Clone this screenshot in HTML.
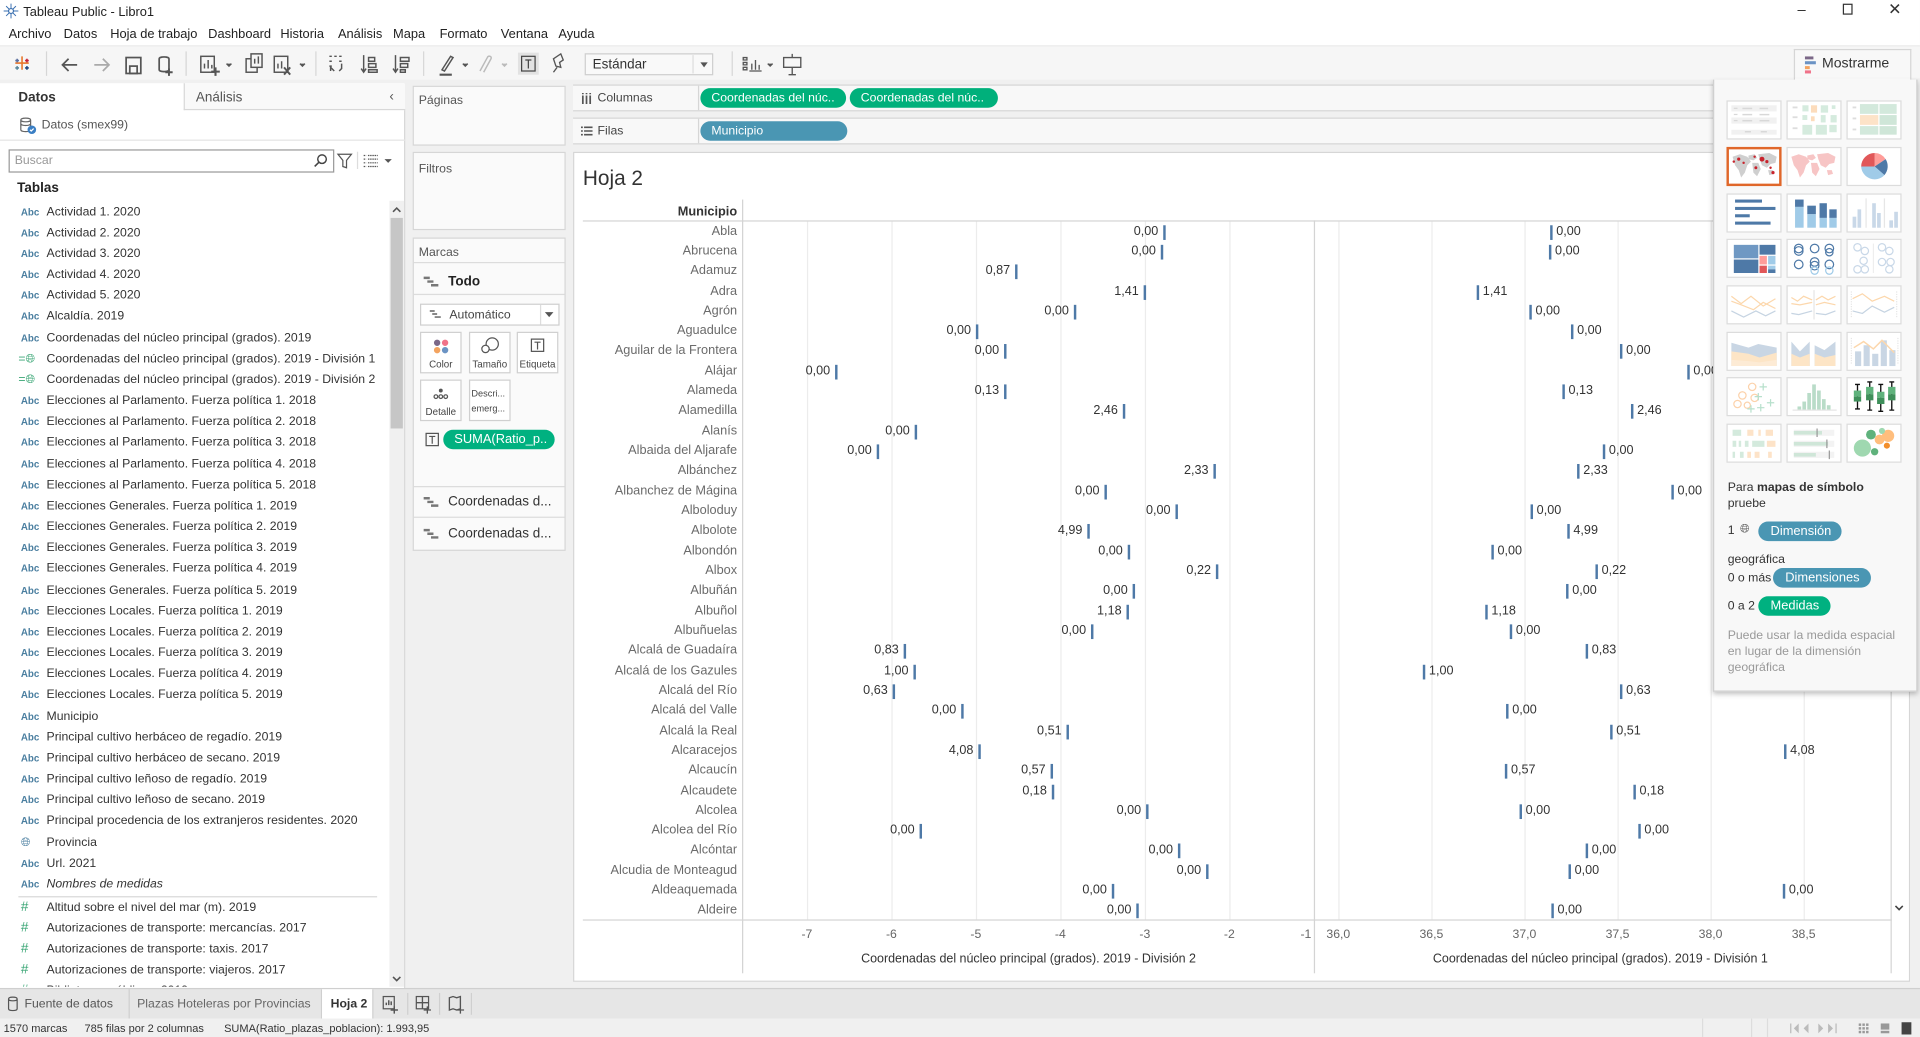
<!DOCTYPE html>
<html><head><meta charset="utf-8">
<style>
html,body{margin:0;padding:0;width:1920px;height:1037px;overflow:hidden;background:#fff}
#app{position:absolute;left:0;top:0;width:1568px;height:847px;transform:scale(1.22445,1.22425);transform-origin:0 0;font-family:"Liberation Sans",Arial,sans-serif;color:#333;background:#f0f0f0;overflow:hidden}
.a{position:absolute;box-sizing:border-box;white-space:nowrap}
.menu{top:21px;font-size:10.5px;color:#222;line-height:14px}
.li{left:0;width:310px;height:17px;line-height:17px;font-size:10px;color:#333}
.li .ic{position:absolute;left:17px;top:0;font-size:8px;color:#4b7fa0;font-weight:bold}
.li .tx{position:absolute;left:38px;top:0}
.hash{color:#3aa675 !important;font-size:11px !important;font-weight:normal !important}
.row{position:absolute;left:0;width:1568px;height:16px}
.rl{position:absolute;left:440px;width:162px;text-align:right;top:0;line-height:16px;font-size:10.4px;color:#6b6b6b;white-space:nowrap}
.mk{position:absolute;top:2px;width:2px;height:12px;background:#4e79a7}
.lv{position:absolute;top:0;width:22px;text-align:right;line-height:16px;font-size:10.3px;color:#333}
.rv{position:absolute;top:0;line-height:16px;font-size:10.3px;color:#333}
.gl{position:absolute;top:181px;width:1px;height:570px;background:#ececec}
.tk{position:absolute;top:757px;width:40px;text-align:center;font-size:10px;color:#666;line-height:14px}
.th{position:absolute;width:45px;height:32px;border:1px solid #dcdcdc;background:#fff;box-sizing:border-box}
.th svg{position:absolute;left:0;top:0}
.card{position:absolute;left:337px;width:125px;background:#fafafa;border:1px solid #d6d6d6;box-sizing:border-box}
.mb{position:absolute;width:34px;height:34px;border:1px solid #d0d0d0;background:#fff;box-sizing:border-box;font-size:8px;color:#444;text-align:center}
.pill{position:absolute;border-radius:9px;color:#fff;font-size:10px;line-height:16px;height:16px;padding-left:9px;box-sizing:border-box;white-space:nowrap;overflow:hidden}
</style></head><body>
<div id="app">

<!-- title bar -->
<div class="a" style="left:0;top:0;width:1568px;height:37px;background:#fff"></div>
<svg class="a" style="left:2px;top:2px" width="14" height="14" viewBox="0 0 14 14"><g stroke="#3a6fb0" stroke-width="1.2"><path d="M7 1v12M1 7h12M3 3l8 8M11 3l-8 8" stroke-width="0.8"/></g><circle cx="7" cy="7" r="2" fill="#fff" stroke="#3a6fb0"/></svg>
<div class="a" style="left:19px;top:3px;font-size:10.5px;color:#222;line-height:14px">Tableau Public - Libro1</div>
<div class="a" style="left:1468px;top:1px;font-size:12px;color:#333">&#8211;</div>
<div class="a" style="left:1505px;top:3px;width:8px;height:9px;border:1px solid #333"></div>
<div class="a" style="left:1542px;top:0px;font-size:13px;color:#333">&#10005;</div>

<!-- menu -->
<div class="a menu" style="left:7px">Archivo</div>
<div class="a menu" style="left:52px">Datos</div>
<div class="a menu" style="left:90px">Hoja de trabajo</div>
<div class="a menu" style="left:170px">Dashboard</div>
<div class="a menu" style="left:229px">Historia</div>
<div class="a menu" style="left:276px">Análisis</div>
<div class="a menu" style="left:321px">Mapa</div>
<div class="a menu" style="left:359px">Formato</div>
<div class="a menu" style="left:409px">Ventana</div>
<div class="a menu" style="left:456px">Ayuda</div>

<!-- toolbar -->
<div class="a" style="left:0;top:37px;width:1568px;height:28px;background:#f6f6f6;border-top:1px solid #ececec"></div>
<svg class="a" style="left:0;top:38px" width="670" height="28" viewBox="0 0 670 28">
 <g stroke-width="1.3" fill="none">
  <path d="M18 8v11M12.5 13.5h11" stroke="#e8762b"/><path d="M14 10v3M12.5 11.5h3" stroke="#5b6f9e"/><path d="M22 10v3M20.5 11.5h3" stroke="#c72037"/><path d="M14 16v3M12.5 17.5h3" stroke="#59879b"/><path d="M22 16v3M20.5 17.5h3" stroke="#1f457e"/>
 </g>
 <line x1="38" y1="4" x2="38" y2="24" stroke="#d6d6d6"/>
 <g stroke="#555" stroke-width="1.4" fill="none">
  <path d="M63 15H51M56 10l-5 5 5 5"/>
  <path d="M77 15h12M84 10l5 5-5 5" stroke="#aaa"/>
  <rect x="103" y="9" width="12" height="13"/><rect x="106" y="16" width="6" height="6"/>
  <path d="M130 10c0-2 8-2 8 0v9c0 2-8 2-8 0z"/><path d="M138 18v6M135 21h6" stroke-width="1.6"/>
 </g>
 <line x1="152" y1="4" x2="152" y2="24" stroke="#d6d6d6"/>
 <g stroke="#555" stroke-width="1.2" fill="none">
  <rect x="164" y="8" width="11" height="13"/><path d="M167 18v-4M170 18v-7M173 18v-3"/><path d="M176 17v7M172.5 20.5h7" stroke-width="1.7"/>
  <path d="M185 14l2 2 2-2" fill="#555"/>
  <rect x="201" y="10" width="9" height="11"/><rect x="205" y="6" width="9" height="11" fill="#f6f6f6"/><path d="M208 14v-4M211 14v-6"/>
  <rect x="224" y="8" width="11" height="13"/><path d="M227 18v-4M230 18v-6"/><path d="M232 17l5 6M237 17l-5 6" stroke-width="1.6"/>
  <path d="M245 14l2 2 2-2" fill="#555"/>
 </g>
 <line x1="258" y1="4" x2="258" y2="24" stroke="#d6d6d6"/>
 <g stroke="#555" stroke-width="1.2" fill="none">
  <path d="M269 8h2M273 8h2M277 8h2M269 12h2M277 12h2M269 16h2M273 20l-3-3v3M279 14v4l-2 2"/>
  <path d="M297 7v14M295 18l2 3 2-3M301 9h5v3h-5zM301 14h6v3h-6zM301 19h7v2h-7z"/>
  <path d="M323 7v14M321 18l2 3 2-3M327 9h7v3h-7zM327 14h6v3h-6zM327 19h4v2h-4z"/>
 </g>
 <line x1="346" y1="4" x2="346" y2="24" stroke="#d6d6d6"/>
 <g stroke="#555" stroke-width="1.2" fill="none">
  <path d="M361 19l7-11 2 1-7 11z"/><path d="M359 23h10" stroke-width="1.8"/>
  <path d="M378 14l2 2 2-2" fill="#555"/>
  <path d="M392 20l6-11c1-2 4-1 3 1l-6 11" stroke="#bbb"/>
  <path d="M410 14l2 2 2-2" fill="#bbb" stroke="#bbb"/>
 </g>
 <rect x="423" y="5" width="17" height="18" fill="#e2e2e2"/>
 <rect x="426" y="8" width="11" height="12" fill="none" stroke="#444"/><path d="M429 11h5M431.5 11v7" stroke="#444"/>
 <path d="M452 21l3-4M452 10l6-4 2 5-3 2 1 4-4-1z" stroke="#555" fill="none" stroke-width="1.1"/>
 <rect x="478" y="6" width="104" height="17" fill="#f9f9f9" stroke="#cfcfcf"/>
 <line x1="566" y1="7" x2="566" y2="22" stroke="#ddd"/>
 <path d="M572 13l3 4 3-4z" fill="#555"/>
 <line x1="598" y1="4" x2="598" y2="24" stroke="#d6d6d6"/>
 <g stroke="#555" stroke-width="1.1" fill="none">
  <path d="M607 9h3v2h-3zM607 13h3v2h-3zM607 17h3v2h-3zM612 20h10M614 19v-5M617 19v-8M620 19v-4"/>
  <path d="M627 14l2 2 2-2" fill="#555"/>
  <path d="M640 9h14v8h-14zM647 17v6M644 23h6M647 6v3"/>
 </g>
</svg>
<div class="a" style="left:484px;top:45px;font-size:11px;line-height:17px;color:#333">Estándar</div>

<!-- Left data panel -->
<div class="a" style="left:0;top:68px;width:331px;height:739px;background:#fff;border-right:1px solid #d6d6d6"></div>
<div class="a" style="left:150px;top:68px;width:181px;height:22px;background:#f9f9f9;border-left:1px solid #d8d8d8;border-bottom:1px solid #d8d8d8"></div>
<div class="a" style="left:15px;top:73px;font-size:11px;font-weight:bold;color:#333;line-height:14px">Datos</div>
<div class="a" style="left:160px;top:73px;font-size:11px;color:#555;line-height:14px">Análisis</div>
<div class="a" style="left:318px;top:72px;font-size:11px;color:#555;line-height:14px">&#8249;</div>
<svg class="a" style="left:15px;top:95px" width="16" height="15"><path d="M2 3c0-2 8-2 8 0v8c0 2-8 2-8 0zM2 3c0 2 8 2 8 0M2 6c0 2 8 2 8 0" stroke="#666" fill="none"/><circle cx="11" cy="11" r="3.5" fill="#3b7fc4"/><path d="M9.5 11l1 1 2-2" stroke="#fff" fill="none"/></svg>
<div class="a" style="left:34px;top:96px;font-size:10px;color:#555;line-height:14px">Datos (smex99)</div>
<div class="a" style="left:0;top:114px;width:331px;height:1px;background:#e4e4e4"></div>
<div class="a" style="left:7px;top:122px;width:266px;height:19px;border:1px solid #9a9a9a;background:#fff"></div>
<div class="a" style="left:12px;top:125px;font-size:10px;color:#999;line-height:14px">Buscar</div>
<svg class="a" style="left:256px;top:125px" width="12" height="12"><circle cx="7" cy="5" r="3.5" stroke="#444" fill="none" stroke-width="1.2"/><path d="M4.5 7.5L1 11" stroke="#444" stroke-width="1.3"/></svg>
<svg class="a" style="left:274px;top:123px" width="50" height="16"><path d="M2 3h11l-4 5v6l-3-1v-5z" stroke="#555" fill="none"/><line x1="18" y1="1" x2="18" y2="15" stroke="#ddd"/><g stroke="#555"><path d="M23 4h2M23 7h2M23 10h2M23 13h2M26.5 4h8M26.5 7h8M26.5 10h8M26.5 13h8" stroke-dasharray="1.2 0.6"/></g><path d="M40 7l3 3 3-3z" fill="#555"/></svg>
<div class="a" style="left:14px;top:147px;font-size:11px;font-weight:bold;color:#222;line-height:14px">Tablas</div>

<div class="a" style="left:0;top:164px;width:318px;height:642px;overflow:hidden">
<div style="position:absolute;left:0;top:-163px;width:318px;height:640px">
<div class="a li" style="top:163.5px"><span class="ic">Abc</span><span class="tx">Actividad 1. 2020</span></div>
<div class="a li" style="top:180.7px"><span class="ic">Abc</span><span class="tx">Actividad 2. 2020</span></div>
<div class="a li" style="top:197.8px"><span class="ic">Abc</span><span class="tx">Actividad 3. 2020</span></div>
<div class="a li" style="top:215px"><span class="ic">Abc</span><span class="tx">Actividad 4. 2020</span></div>
<div class="a li" style="top:232.2px"><span class="ic">Abc</span><span class="tx">Actividad 5. 2020</span></div>
<div class="a li" style="top:249.4px"><span class="ic">Abc</span><span class="tx">Alcaldía. 2019</span></div>
<div class="a li" style="top:266.5px"><span class="ic">Abc</span><span class="tx">Coordenadas del núcleo principal (grados). 2019</span></div>
<div class="a li" style="top:283.7px"><span class="ic" style="color:#3aa675;font-weight:normal;font-size:10px;left:15px">=&#127760;&#xFE0E;</span><span class="tx">Coordenadas del núcleo principal (grados). 2019 - División 1</span></div>
<div class="a li" style="top:300.9px"><span class="ic" style="color:#3aa675;font-weight:normal;font-size:10px;left:15px">=&#127760;&#xFE0E;</span><span class="tx">Coordenadas del núcleo principal (grados). 2019 - División 2</span></div>
<div class="a li" style="top:318.0px"><span class="ic">Abc</span><span class="tx">Elecciones al Parlamento. Fuerza política 1. 2018</span></div>
<div class="a li" style="top:335.2px"><span class="ic">Abc</span><span class="tx">Elecciones al Parlamento. Fuerza política 2. 2018</span></div>
<div class="a li" style="top:352.4px"><span class="ic">Abc</span><span class="tx">Elecciones al Parlamento. Fuerza política 3. 2018</span></div>
<div class="a li" style="top:369.5px"><span class="ic">Abc</span><span class="tx">Elecciones al Parlamento. Fuerza política 4. 2018</span></div>
<div class="a li" style="top:386.7px"><span class="ic">Abc</span><span class="tx">Elecciones al Parlamento. Fuerza política 5. 2018</span></div>
<div class="a li" style="top:403.9px"><span class="ic">Abc</span><span class="tx">Elecciones Generales. Fuerza política 1. 2019</span></div>
<div class="a li" style="top:421.0px"><span class="ic">Abc</span><span class="tx">Elecciones Generales. Fuerza política 2. 2019</span></div>
<div class="a li" style="top:438.2px"><span class="ic">Abc</span><span class="tx">Elecciones Generales. Fuerza política 3. 2019</span></div>
<div class="a li" style="top:455.4px"><span class="ic">Abc</span><span class="tx">Elecciones Generales. Fuerza política 4. 2019</span></div>
<div class="a li" style="top:472.6px"><span class="ic">Abc</span><span class="tx">Elecciones Generales. Fuerza política 5. 2019</span></div>
<div class="a li" style="top:489.7px"><span class="ic">Abc</span><span class="tx">Elecciones Locales. Fuerza política 1. 2019</span></div>
<div class="a li" style="top:506.9px"><span class="ic">Abc</span><span class="tx">Elecciones Locales. Fuerza política 2. 2019</span></div>
<div class="a li" style="top:524.1px"><span class="ic">Abc</span><span class="tx">Elecciones Locales. Fuerza política 3. 2019</span></div>
<div class="a li" style="top:541.2px"><span class="ic">Abc</span><span class="tx">Elecciones Locales. Fuerza política 4. 2019</span></div>
<div class="a li" style="top:558.4px"><span class="ic">Abc</span><span class="tx">Elecciones Locales. Fuerza política 5. 2019</span></div>
<div class="a li" style="top:575.6px"><span class="ic">Abc</span><span class="tx">Municipio</span></div>
<div class="a li" style="top:592.7px"><span class="ic">Abc</span><span class="tx">Principal cultivo herbáceo de regadío. 2019</span></div>
<div class="a li" style="top:609.9px"><span class="ic">Abc</span><span class="tx">Principal cultivo herbáceo de secano. 2019</span></div>
<div class="a li" style="top:627.1px"><span class="ic">Abc</span><span class="tx">Principal cultivo leñoso de regadío. 2019</span></div>
<div class="a li" style="top:644.2px"><span class="ic">Abc</span><span class="tx">Principal cultivo leñoso de secano. 2019</span></div>
<div class="a li" style="top:661.4px"><span class="ic">Abc</span><span class="tx">Principal procedencia de los extranjeros residentes. 2020</span></div>
<div class="a li" style="top:678.6px"><span class="ic" style="color:#4b7fa0;font-weight:normal;font-size:10px">&#127760;&#xFE0E;</span><span class="tx">Provincia</span></div>
<div class="a li" style="top:695.7px"><span class="ic">Abc</span><span class="tx">Url. 2021</span></div>
<div class="a li" style="top:712.9px"><span class="ic">Abc</span><span class="tx" style="font-style:italic">Nombres de medidas</span></div>
<div class="a" style="left:15px;top:731px;width:293px;height:1px;background:#d8d8d8"></div>
<div class="a li" style="top:731.5px"><span class="ic hash">#</span><span class="tx">Altitud sobre el nivel del mar (m). 2019</span></div>
<div class="a li" style="top:748.6px"><span class="ic hash">#</span><span class="tx">Autorizaciones de transporte: mercancías. 2017</span></div>
<div class="a li" style="top:765.8px"><span class="ic hash">#</span><span class="tx">Autorizaciones de transporte: taxis. 2017</span></div>
<div class="a li" style="top:783px"><span class="ic hash">#</span><span class="tx">Autorizaciones de transporte: viajeros. 2017</span></div>
<div class="a li" style="top:800.1px"><span class="ic hash">#</span><span class="tx">Bibliotecas públicas. 2019</span></div>
</div></div>
<!-- list scrollbar -->
<div class="a" style="left:318px;top:164px;width:12px;height:642px;background:#f0f0f0"></div>
<div class="a" style="left:319px;top:178px;width:10px;height:172px;background:#c6c6c6"></div>
<svg class="a" style="left:319px;top:166px" width="10" height="10"><path d="M2 7l3-3 3 3" stroke="#555" fill="none" stroke-width="1.3"/></svg>
<svg class="a" style="left:319px;top:795px" width="10" height="10"><path d="M2 3l3 3 3-3" stroke="#555" fill="none" stroke-width="1.3"/></svg>

<!-- Middle column cards -->
<div class="card" style="top:70px;height:49px"></div>
<div class="a" style="left:342px;top:76px;font-size:10px;color:#555;line-height:13px">Páginas</div>
<div class="card" style="top:124px;height:64px"></div>
<div class="a" style="left:342px;top:132px;font-size:10px;color:#555;line-height:13px">Filtros</div>
<div class="card" style="top:194px;height:256px"></div>
<div class="a" style="left:342px;top:200px;font-size:10px;color:#555;line-height:13px">Marcas</div>
<div class="a" style="left:338px;top:214px;width:123px;height:1px;background:#dcdcdc"></div>
<svg class="a" style="left:345px;top:225px" width="14" height="10"><path d="M1 2h5M4 5h5M7 8h6" stroke="#777" stroke-width="2"/></svg>
<div class="a" style="left:366px;top:223px;font-size:11px;font-weight:bold;color:#222;line-height:14px">Todo</div>
<div class="a" style="left:338px;top:240px;width:123px;height:1px;background:#dcdcdc"></div>
<div class="a" style="left:343px;top:248px;width:114px;height:18px;border:1px solid #cfcfcf;background:#fff"></div>
<svg class="a" style="left:350px;top:252px" width="12" height="9"><path d="M1 2h4M3 4.5h4M5 7h5" stroke="#888" stroke-width="1.6"/></svg>
<div class="a" style="left:367px;top:251px;font-size:10px;color:#444;line-height:14px">Automático</div>
<div class="a" style="left:441px;top:249px;width:1px;height:16px;background:#ddd"></div>
<svg class="a" style="left:444px;top:254px" width="9" height="6"><path d="M1 1h7l-3.5 4z" fill="#555"/></svg>
<div class="mb" style="left:343px;top:271px"><svg width="32" height="18"><circle cx="13" cy="8" r="2.6" fill="#7b6888"/><circle cx="19.5" cy="8" r="2.6" fill="#f07289"/><circle cx="13" cy="14" r="2.6" fill="#f3a35f"/><circle cx="19.5" cy="14" r="2.6" fill="#6b93c4"/></svg><div style="position:absolute;left:0;top:21px;width:32px;text-align:center">Color</div></div>
<div class="mb" style="left:383px;top:271px"><svg width="32" height="18"><circle cx="18" cy="9" r="5" stroke="#555" fill="none"/><circle cx="12.5" cy="13" r="3" stroke="#555" fill="#fff"/></svg><div style="position:absolute;left:0;top:21px;width:32px;text-align:center">Tamaño</div></div>
<div class="mb" style="left:422px;top:271px"><svg width="32" height="18"><rect x="11" y="5" width="10" height="10" stroke="#555" fill="none"/><path d="M13.5 7.5h5M16 7.5v6" stroke="#555"/></svg><div style="position:absolute;left:0;top:21px;width:32px;text-align:center">Etiqueta</div></div>
<div class="mb" style="left:343px;top:310px"><svg width="32" height="18"><circle cx="16" cy="8" r="1.6" fill="#555"/><circle cx="12" cy="13" r="1.5" stroke="#555" fill="none"/><circle cx="16" cy="13" r="1.5" stroke="#555" fill="none"/><circle cx="20" cy="13" r="1.5" stroke="#555" fill="none"/></svg><div style="position:absolute;left:0;top:21px;width:32px;text-align:center">Detalle</div></div>
<div class="mb" style="left:383px;top:310px"><div style="position:absolute;left:1px;top:5px;width:32px;text-align:left;line-height:12px;font-size:7.5px">Descri...<br>emerg...</div></div>
<svg class="a" style="left:347px;top:353px" width="12" height="12"><rect x="1" y="1" width="10" height="10" stroke="#555" fill="none"/><path d="M3.5 3.5h5M6 3.5v6" stroke="#555"/></svg>
<div class="pill" style="left:362px;top:351px;width:91px;background:#00b180;font-size:10.5px;line-height:17px">SUMA(Ratio_p..</div>
<div class="a" style="left:338px;top:397px;width:123px;height:1px;background:#dcdcdc"></div>
<svg class="a" style="left:345px;top:405px" width="14" height="10"><path d="M1 2h5M4 5h5M7 8h6" stroke="#777" stroke-width="2"/></svg>
<div class="a" style="left:366px;top:403px;font-size:11px;color:#333;line-height:14px">Coordenadas d...</div>
<div class="a" style="left:338px;top:422px;width:123px;height:1px;background:#dcdcdc"></div>
<svg class="a" style="left:345px;top:431px" width="14" height="10"><path d="M1 2h5M4 5h5M7 8h6" stroke="#777" stroke-width="2"/></svg>
<div class="a" style="left:366px;top:429px;font-size:11px;color:#333;line-height:14px">Coordenadas d...</div>

<!-- Shelves -->
<div class="a" style="left:468px;top:69px;width:931px;height:22px;background:#f8f8f8;border-top:1px solid #d6d6d6;border-bottom:1px solid #d6d6d6"></div>
<div class="a" style="left:468px;top:96px;width:931px;height:22px;background:#f8f8f8;border-top:1px solid #d6d6d6;border-bottom:1px solid #d6d6d6"></div>
<div class="a" style="left:570px;top:70px;width:1px;height:20px;background:#d6d6d6"></div>
<div class="a" style="left:570px;top:97px;width:1px;height:20px;background:#d6d6d6"></div>
<svg class="a" style="left:474px;top:75px" width="10" height="11"><path d="M2 3v7M5 3v7M8 3v7M2 1v1M5 1v1M8 1v1" stroke="#555" stroke-width="1.4"/></svg>
<div class="a" style="left:488px;top:74px;font-size:10px;color:#444;line-height:14px">Columnas</div>
<svg class="a" style="left:474px;top:102px" width="10" height="11"><path d="M3 2h7M3 5h7M3 8h7M0.5 2h1.5M0.5 5h1.5M0.5 8h1.5" stroke="#555" stroke-width="1.3"/></svg>
<div class="a" style="left:488px;top:101px;font-size:10px;color:#444;line-height:14px">Filas</div>
<div class="pill" style="left:572px;top:72px;width:119px;background:#00b07b;line-height:17px">Coordenadas del núc..</div>
<div class="pill" style="left:694px;top:72px;width:121px;background:#00b07b;line-height:17px">Coordenadas del núc..</div>
<div class="pill" style="left:572px;top:99px;width:120px;background:#4a96b3;line-height:17px">Municipio</div>

<!-- Sheet area -->
<div class="a" style="left:468px;top:124px;width:1092px;height:678px;background:#fff;border:1px solid #d6d6d6"></div>
<div class="a" style="left:476px;top:136px;font-size:17px;color:#333;line-height:20px">Hoja 2</div>
<div class="a" style="left:440px;top:166.5px;width:162px;text-align:right;font-size:10.4px;color:#333;line-height:14px;font-weight:bold">Municipio</div>
<!-- gridlines -->
<div class="gl" style="left:659px"></div><div class="gl" style="left:728px"></div><div class="gl" style="left:797px"></div><div class="gl" style="left:866px"></div><div class="gl" style="left:935px"></div><div class="gl" style="left:1004px"></div>
<div class="gl" style="left:1093px"></div><div class="gl" style="left:1169px"></div><div class="gl" style="left:1245px"></div><div class="gl" style="left:1321px"></div><div class="gl" style="left:1397px"></div><div class="gl" style="left:1473px"></div>
<div class="a" style="left:476px;top:180px;width:1069px;height:1px;background:#d4d4d4"></div>
<div class="a" style="left:476px;top:751px;width:1069px;height:1px;background:#d4d4d4"></div>
<div class="a" style="left:606px;top:163px;width:1px;height:632px;background:#d4d4d4"></div>
<div class="a" style="left:1073px;top:180px;width:1px;height:615px;background:#d4d4d4"></div>
<div class="a" style="left:1544px;top:180px;width:1px;height:615px;background:#d4d4d4"></div>
<svg class="a" style="left:1546px;top:737px" width="10" height="10"><path d="M2 3l3 3 3-3" stroke="#444" fill="none" stroke-width="1.3"/></svg>

<!-- rows -->
<div class="a" style="left:0;top:1.5px;width:1568px;height:760px">
<div class="row" style="top:180px"><span class="rl">Abla</span><i class="mk" style="left:950px"></i><span class="lv" style="left:924px">0,00</span><i class="mk" style="left:1266px"></i><span class="rv" style="left:1271px">0,00</span></div>
<div class="row" style="top:196.3px"><span class="rl">Abrucena</span><i class="mk" style="left:948px"></i><span class="lv" style="left:922px">0,00</span><i class="mk" style="left:1265px"></i><span class="rv" style="left:1270px">0,00</span></div>
<div class="row" style="top:212.6px"><span class="rl">Adamuz</span><i class="mk" style="left:829px"></i><span class="lv" style="left:803px">0,87</span><i class="mk" style="left:1420px"></i><span class="rv" style="left:1425px">0,87</span></div>
<div class="row" style="top:229px"><span class="rl">Adra</span><i class="mk" style="left:934px"></i><span class="lv" style="left:908px">1,41</span><i class="mk" style="left:1206px"></i><span class="rv" style="left:1211px">1,41</span></div>
<div class="row" style="top:245.3px"><span class="rl">Agrón</span><i class="mk" style="left:877px"></i><span class="lv" style="left:851px">0,00</span><i class="mk" style="left:1249px"></i><span class="rv" style="left:1254px">0,00</span></div>
<div class="row" style="top:261.6px"><span class="rl">Aguadulce</span><i class="mk" style="left:797px"></i><span class="lv" style="left:771px">0,00</span><i class="mk" style="left:1283px"></i><span class="rv" style="left:1288px">0,00</span></div>
<div class="row" style="top:277.9px"><span class="rl">Aguilar de la Frontera</span><i class="mk" style="left:820px"></i><span class="lv" style="left:794px">0,00</span><i class="mk" style="left:1323px"></i><span class="rv" style="left:1328px">0,00</span></div>
<div class="row" style="top:294.2px"><span class="rl">Alájar</span><i class="mk" style="left:682px"></i><span class="lv" style="left:656px">0,00</span><i class="mk" style="left:1378px"></i><span class="rv" style="left:1383px">0,00</span></div>
<div class="row" style="top:310.6px"><span class="rl">Alameda</span><i class="mk" style="left:820px"></i><span class="lv" style="left:794px">0,13</span><i class="mk" style="left:1276px"></i><span class="rv" style="left:1281px">0,13</span></div>
<div class="row" style="top:326.9px"><span class="rl">Alamedilla</span><i class="mk" style="left:917px"></i><span class="lv" style="left:891px">2,46</span><i class="mk" style="left:1332px"></i><span class="rv" style="left:1337px">2,46</span></div>
<div class="row" style="top:343.2px"><span class="rl">Alanís</span><i class="mk" style="left:747px"></i><span class="lv" style="left:721px">0,00</span><i class="mk" style="left:1430px"></i><span class="rv" style="left:1435px">0,00</span></div>
<div class="row" style="top:359.5px"><span class="rl">Albaida del Aljarafe</span><i class="mk" style="left:716px"></i><span class="lv" style="left:690px">0,00</span><i class="mk" style="left:1309px"></i><span class="rv" style="left:1314px">0,00</span></div>
<div class="row" style="top:375.8px"><span class="rl">Albánchez</span><i class="mk" style="left:991px"></i><span class="lv" style="left:965px">2,33</span><i class="mk" style="left:1288px"></i><span class="rv" style="left:1293px">2,33</span></div>
<div class="row" style="top:392.2px"><span class="rl">Albanchez de Mágina</span><i class="mk" style="left:902px"></i><span class="lv" style="left:876px">0,00</span><i class="mk" style="left:1365px"></i><span class="rv" style="left:1370px">0,00</span></div>
<div class="row" style="top:408.5px"><span class="rl">Alboloduy</span><i class="mk" style="left:960px"></i><span class="lv" style="left:934px">0,00</span><i class="mk" style="left:1250px"></i><span class="rv" style="left:1255px">0,00</span></div>
<div class="row" style="top:424.8px"><span class="rl">Albolote</span><i class="mk" style="left:888px"></i><span class="lv" style="left:862px">4,99</span><i class="mk" style="left:1280px"></i><span class="rv" style="left:1285px">4,99</span></div>
<div class="row" style="top:441.1px"><span class="rl">Albondón</span><i class="mk" style="left:921px"></i><span class="lv" style="left:895px">0,00</span><i class="mk" style="left:1218px"></i><span class="rv" style="left:1223px">0,00</span></div>
<div class="row" style="top:457.4px"><span class="rl">Albox</span><i class="mk" style="left:993px"></i><span class="lv" style="left:967px">0,22</span><i class="mk" style="left:1303px"></i><span class="rv" style="left:1308px">0,22</span></div>
<div class="row" style="top:473.8px"><span class="rl">Albuñán</span><i class="mk" style="left:925px"></i><span class="lv" style="left:899px">0,00</span><i class="mk" style="left:1279px"></i><span class="rv" style="left:1284px">0,00</span></div>
<div class="row" style="top:490.1px"><span class="rl">Albuñol</span><i class="mk" style="left:920px"></i><span class="lv" style="left:894px">1,18</span><i class="mk" style="left:1213px"></i><span class="rv" style="left:1218px">1,18</span></div>
<div class="row" style="top:506.4px"><span class="rl">Albuñuelas</span><i class="mk" style="left:891px"></i><span class="lv" style="left:865px">0,00</span><i class="mk" style="left:1233px"></i><span class="rv" style="left:1238px">0,00</span></div>
<div class="row" style="top:522.7px"><span class="rl">Alcalá de Guadaíra</span><i class="mk" style="left:738px"></i><span class="lv" style="left:712px">0,83</span><i class="mk" style="left:1295px"></i><span class="rv" style="left:1300px">0,83</span></div>
<div class="row" style="top:539px"><span class="rl">Alcalá de los Gazules</span><i class="mk" style="left:746px"></i><span class="lv" style="left:720px">1,00</span><i class="mk" style="left:1162px"></i><span class="rv" style="left:1167px">1,00</span></div>
<div class="row" style="top:555.4px"><span class="rl">Alcalá del Río</span><i class="mk" style="left:729px"></i><span class="lv" style="left:703px">0,63</span><i class="mk" style="left:1323px"></i><span class="rv" style="left:1328px">0,63</span></div>
<div class="row" style="top:571.7px"><span class="rl">Alcalá del Valle</span><i class="mk" style="left:785px"></i><span class="lv" style="left:759px">0,00</span><i class="mk" style="left:1230px"></i><span class="rv" style="left:1235px">0,00</span></div>
<div class="row" style="top:588px"><span class="rl">Alcalá la Real</span><i class="mk" style="left:871px"></i><span class="lv" style="left:845px">0,51</span><i class="mk" style="left:1315px"></i><span class="rv" style="left:1320px">0,51</span></div>
<div class="row" style="top:604.3px"><span class="rl">Alcaracejos</span><i class="mk" style="left:799px"></i><span class="lv" style="left:773px">4,08</span><i class="mk" style="left:1457px"></i><span class="rv" style="left:1462px">4,08</span></div>
<div class="row" style="top:620.6px"><span class="rl">Alcaucín</span><i class="mk" style="left:858px"></i><span class="lv" style="left:832px">0,57</span><i class="mk" style="left:1229px"></i><span class="rv" style="left:1234px">0,57</span></div>
<div class="row" style="top:637px"><span class="rl">Alcaudete</span><i class="mk" style="left:859px"></i><span class="lv" style="left:833px">0,18</span><i class="mk" style="left:1334px"></i><span class="rv" style="left:1339px">0,18</span></div>
<div class="row" style="top:653.3px"><span class="rl">Alcolea</span><i class="mk" style="left:936px"></i><span class="lv" style="left:910px">0,00</span><i class="mk" style="left:1241px"></i><span class="rv" style="left:1246px">0,00</span></div>
<div class="row" style="top:669.6px"><span class="rl">Alcolea del Río</span><i class="mk" style="left:751px"></i><span class="lv" style="left:725px">0,00</span><i class="mk" style="left:1338px"></i><span class="rv" style="left:1343px">0,00</span></div>
<div class="row" style="top:685.9px"><span class="rl">Alcóntar</span><i class="mk" style="left:962px"></i><span class="lv" style="left:936px">0,00</span><i class="mk" style="left:1295px"></i><span class="rv" style="left:1300px">0,00</span></div>
<div class="row" style="top:702.2px"><span class="rl">Alcudia de Monteagud</span><i class="mk" style="left:985px"></i><span class="lv" style="left:959px">0,00</span><i class="mk" style="left:1281px"></i><span class="rv" style="left:1286px">0,00</span></div>
<div class="row" style="top:718.6px"><span class="rl">Aldeaquemada</span><i class="mk" style="left:908px"></i><span class="lv" style="left:882px">0,00</span><i class="mk" style="left:1456px"></i><span class="rv" style="left:1461px">0,00</span></div>
<div class="row" style="top:734.9px"><span class="rl">Aldeire</span><i class="mk" style="left:928px"></i><span class="lv" style="left:902px">0,00</span><i class="mk" style="left:1267px"></i><span class="rv" style="left:1272px">0,00</span></div>
</div>

<!-- axis ticks -->
<div class="tk" style="left:639px">-7</div><div class="tk" style="left:708px">-6</div><div class="tk" style="left:777px">-5</div><div class="tk" style="left:846px">-4</div><div class="tk" style="left:915px">-3</div><div class="tk" style="left:984px">-2</div>
<div class="tk" style="left:1031px;text-align:right">-1</div>
<div class="tk" style="left:1073px">36,0</div><div class="tk" style="left:1149px">36,5</div><div class="tk" style="left:1225px">37,0</div><div class="tk" style="left:1301px">37,5</div><div class="tk" style="left:1377px">38,0</div><div class="tk" style="left:1453px">38,5</div>
<div class="a" style="left:640px;top:777px;width:400px;text-align:center;font-size:10.2px;color:#333;line-height:14px">Coordenadas del núcleo principal (grados). 2019 - División 2</div>
<div class="a" style="left:1107px;top:777px;width:400px;text-align:center;font-size:10.2px;color:#333;line-height:14px">Coordenadas del núcleo principal (grados). 2019 - División 1</div>

<!-- right edge -->
<div class="a" style="left:1560px;top:64px;width:8px;height:744px;background:#f0f0f0"></div>

<!-- Show Me -->
<div class="a" style="left:1465px;top:40px;width:96px;height:26px;background:#f8f8f8;border:1px solid #d6d6d6;border-bottom:none"></div>
<svg class="a" style="left:1474px;top:46px" width="10" height="14"><rect x="0" y="0" width="7" height="2.5" fill="#7b6888"/><rect x="0" y="4" width="9" height="2.5" fill="#6b93c4"/><rect x="0" y="8" width="4" height="2.5" fill="#f3a35f"/><rect x="0" y="11.5" width="5" height="2.5" fill="#f07289"/></svg>
<div class="a" style="left:1488px;top:45px;font-size:11.5px;color:#333;line-height:15px">Mostrarme</div>
<div class="a" style="left:1399px;top:65px;width:167px;height:500px;background:#f8f8f8;border:1px solid #d0d0d0;border-top:none;box-shadow:0 2px 4px rgba(0,0,0,.25);z-index:5">
<div class="a" style="left:66px;top:-1px;width:94px;height:2px;background:#f8f8f8"></div>

<div class="th" style="left:10px;top:17px"><svg width="43" height="30"><rect x="3" y="3" width="37" height="5" fill="#f1f1f1"/><rect x="3" y="13" width="37" height="5" fill="#f1f1f1"/><rect x="3" y="23" width="37" height="4" fill="#f1f1f1"/><g fill="#d8d8d8"><rect x="5" y="5" width="3" height="1"/><rect x="5" y="10" width="3" height="1"/><rect x="5" y="15" width="3" height="1"/><rect x="12" y="5" width="8" height="1.2"/><rect x="26" y="5" width="7" height="1.2"/><rect x="12" y="10" width="8" height="1.2"/><rect x="26" y="10" width="8" height="1.2"/><rect x="12" y="15" width="8" height="1.2"/><rect x="26" y="15" width="8" height="1.2"/><rect x="14" y="24" width="5" height="1.2"/><rect x="27" y="24" width="5" height="1.2"/></g></svg></div>
<div class="th" style="left:59px;top:17px"><svg width="43" height="30"><g fill="#d5ebde"><rect x="4" y="4" width="4" height="1.5" fill="#ddd"/><rect x="12" y="3" width="5" height="5"/><rect x="27" y="3" width="6" height="6"/><rect x="36" y="3" width="3" height="3"/><rect x="4" y="12" width="4" height="1.5" fill="#ddd"/><rect x="12" y="11" width="4" height="4"/><rect x="27" y="11" width="4" height="6"/><rect x="35" y="11" width="5" height="6"/><rect x="4" y="21" width="4" height="1.5" fill="#ddd"/><rect x="12" y="19" width="8" height="8"/><rect x="23" y="19" width="9" height="8"/><rect x="34" y="19" width="6" height="6"/></g><rect x="19" y="3" width="5" height="6" fill="#fcdcbc"/><rect x="19" y="12" width="3" height="4" fill="#fcdcbc"/></svg></div>
<div class="th" style="left:108px;top:17px"><svg width="43" height="30"><rect x="4" y="4" width="3" height="1.5" fill="#ddd"/><rect x="4" y="13" width="3" height="1.5" fill="#ddd"/><rect x="4" y="22" width="3" height="1.5" fill="#ddd"/><rect x="10" y="2" width="15" height="8" fill="#d3e9dc"/><rect x="26" y="2" width="14" height="8" fill="#d3e9dc"/><rect x="10" y="11" width="15" height="8" fill="#fde3c8"/><rect x="26" y="11" width="14" height="8" fill="#cfe6d8"/><rect x="10" y="20" width="15" height="7" fill="#d3e9dc"/><rect x="26" y="20" width="14" height="7" fill="#cfe6d8"/></svg></div>

<div class="th" style="left:10px;top:55px;border:2px solid #e0672a"><svg width="41" height="28"><path d="M3 6l6-2 6 2 3 4-3 3-2 6-3 4-2-6-3-4zM16 5l5-1 2 3-3 2-4-1zM19 11l5 0 2 5-3 6-3-3zM24 4l9-1 6 3-1 5-4 1-3 3-4-2-2-5zM32 17l4 0 1 3-4 1z" fill="#cfcfcf"/><g fill="#c8232c"><circle cx="8" cy="8" r="1.3"/><circle cx="12" cy="11" r="1"/><circle cx="21" cy="6" r="1"/><circle cx="27" cy="8" r="2"/><circle cx="31" cy="10" r="1.3"/><circle cx="34" cy="15" r="1"/><circle cx="36" cy="19" r="1.3"/><circle cx="22" cy="15" r="1.2"/><circle cx="4" cy="10" r="1"/></g></svg></div>
<div class="th" style="left:59px;top:55px"><svg width="43" height="30"><path d="M3 7l6-2 6 2 3 4-3 3-2 6-3 4-2-6-3-4zM16 6l5-1 2 3-3 2-4-1zM19 12l5 0 2 5-3 6-3-3zM24 5l9-1 6 3-1 5-4 1-3 3-4-2-2-5zM32 18l4 0 1 3-4 1z" fill="#f7c5c5"/></svg></div>
<div class="th" style="left:108px;top:55px"><svg width="43" height="30"><path d="M22 15L22 4A11 11 0 0 1 31 9z" fill="#ff9d9a"/><path d="M22 15L31 9A11 11 0 0 1 30 22z" fill="#4e79a7"/><path d="M22 15L30 22A11 11 0 0 1 11 15z" fill="#a0cbe8"/><path d="M22 15L11 15A11 11 0 0 1 22 4z" fill="#e15759"/></svg></div>

<div class="th" style="left:10px;top:93px"><svg width="43" height="30"><g fill="#4e79a7"><rect x="6" y="4" width="22" height="2.5"/><rect x="6" y="10" width="33" height="2.5"/><rect x="6" y="16" width="12" height="2.5"/><rect x="6" y="22" width="29" height="2.5"/></g></svg></div>
<div class="th" style="left:59px;top:93px"><svg width="43" height="30"><rect x="6" y="4" width="7" height="6" fill="#4e79a7"/><rect x="6" y="10" width="7" height="17" fill="#a0cbe8"/><rect x="16" y="9" width="7" height="7" fill="#4e79a7"/><rect x="16" y="16" width="7" height="11" fill="#a0cbe8"/><rect x="26" y="7" width="6" height="12" fill="#4e79a7"/><rect x="26" y="19" width="6" height="8" fill="#a0cbe8"/><rect x="34" y="12" width="6" height="7" fill="#4e79a7"/><rect x="34" y="19" width="6" height="8" fill="#a0cbe8"/></svg></div>
<div class="th" style="left:108px;top:93px"><svg width="43" height="30"><g fill="#c9d8e8"><rect x="4" y="18" width="3" height="9"/><rect x="8" y="12" width="3" height="15"/><rect x="20" y="7" width="3" height="20"/><rect x="24" y="15" width="3" height="12"/><rect x="34" y="21" width="3" height="6"/><rect x="38" y="14" width="3" height="13"/></g><path d="M15 3v24M30 3v24" stroke="#e6e6e6"/></svg></div>

<div class="th" style="left:10px;top:130px"><svg width="43" height="30"><rect x="5" y="4" width="20" height="11" fill="#6f98c3"/><rect x="5" y="16" width="20" height="11" fill="#4e79a7"/><rect x="26" y="4" width="13" height="8" fill="#4e79a7"/><rect x="26" y="13" width="6" height="7" fill="#ff9d9a"/><rect x="33" y="13" width="6" height="7" fill="#a0cbe8"/><rect x="26" y="21" width="6" height="6" fill="#e15759"/><rect x="33" y="21" width="6" height="3" fill="#a0cbe8"/><rect x="33" y="24" width="6" height="3" fill="#4e79a7"/></svg></div>
<div class="th" style="left:59px;top:130px"><svg width="43" height="30"><g fill="none" stroke="#4e79a7" stroke-width="1"><circle cx="9" cy="7" r="3.5"/><circle cx="9" cy="9" r="3.5"/><circle cx="22" cy="7" r="3.5"/><circle cx="34" cy="7" r="3.5"/><circle cx="34" cy="10" r="3"/><circle cx="9" cy="20" r="3.5"/><circle cx="22" cy="18" r="3.5"/><circle cx="22" cy="21" r="3.5"/><circle cx="34" cy="20" r="3.5"/><circle cx="22" cy="25" r="3" stroke="#a0cbe8"/><circle cx="34" cy="25" r="3" stroke="#a0cbe8"/></g></svg></div>
<div class="th" style="left:108px;top:130px"><svg width="43" height="30"><g fill="none" stroke="#c9d8e8" stroke-width="1"><circle cx="8" cy="6" r="3"/><circle cx="14" cy="9" r="3"/><circle cx="13" cy="17" r="3"/><circle cx="8" cy="24" r="3"/><circle cx="14" cy="24" r="3"/><circle cx="28" cy="6" r="3"/><circle cx="34" cy="9" r="3"/><circle cx="28" cy="18" r="3"/><circle cx="35" cy="18" r="3"/><circle cx="34" cy="24" r="3"/></g><path d="M21 3v24" stroke="#eee"/></svg></div>

<div class="th" style="left:10px;top:168px"><svg width="43" height="30"><path d="M3 8l8 6 8-6 10 8 10-6" stroke="#fcd7ac" fill="none"/><path d="M3 12l8 3 10 4 8-6 10 5" stroke="#fcd7ac" fill="none"/><path d="M3 20l10 5 10-5 8 4 8-4" stroke="#c6d4e2" fill="none"/></svg></div>
<div class="th" style="left:59px;top:168px"><svg width="43" height="30"><path d="M3 9l5 3 5-4 7 3M23 11l5-3 5 3 6-3" stroke="#fcd7ac" fill="none"/><path d="M3 14l7 1 10-2M23 15l7-2 9 2" stroke="#fcd7ac" fill="none"/><path d="M3 22l6 1 11-3M23 22l8 1 8-3" stroke="#c6d4e2" fill="none"/><path d="M21.5 3v24" stroke="#e6e6e6"/></svg></div>
<div class="th" style="left:108px;top:168px"><svg width="43" height="30"><path d="M4 10l8-4 8 6 10-4 8 4" stroke="#fcd7ac" fill="none"/><path d="M4 20l8 2 8-6 10 5 8-4" stroke="#c6d4e2" fill="none"/><path d="M3 4v22M40 4v22" stroke="#e6e6e6" stroke-dasharray="1 1"/></svg></div>

<div class="th" style="left:10px;top:206px"><svg width="43" height="30"><path d="M3 8l14 4 8-3 15 3v15H3z" fill="#c9d6e4"/><path d="M3 15l14 2 9 3 14-4v11H3z" fill="#fde5c6"/><path d="M3 22l14 1 9 1 14-2v5H3z" fill="#fdebd5"/></svg></div>
<div class="th" style="left:59px;top:206px"><svg width="43" height="30"><path d="M3 7l7 8 8-8v20H3z" fill="#c9d6e4"/><path d="M22 10l8 4 9-7v20H22z" fill="#c9d6e4"/><path d="M3 17l7 3 8-3v10H3zM22 17l8 3 9-2v9H22z" fill="#fde5c6"/></svg></div>
<div class="th" style="left:108px;top:206px"><svg width="43" height="30"><g fill="#c9d6e4"><rect x="6" y="15" width="5" height="12"/><rect x="13" y="10" width="5" height="17"/><rect x="20" y="17" width="5" height="10"/><rect x="27" y="6" width="5" height="21"/><rect x="34" y="14" width="5" height="13"/></g><path d="M5 12l8-5 8 6 7-7 10 10" stroke="#fcd7ac" fill="none" stroke-width="1.2"/><path d="M3 4v22M41 4v22" stroke="#e6e6e6" stroke-dasharray="1 1"/></svg></div>

<div class="th" style="left:10px;top:243px"><svg width="43" height="30"><g fill="none" stroke="#fcd2ab"><circle cx="20" cy="7" r="3"/><circle cx="12" cy="14" r="3"/><circle cx="22" cy="16" r="3"/><circle cx="8" cy="21" r="3"/><circle cx="16" cy="22" r="2.5"/></g><g stroke="#b7e0cc"><path d="M29 4v6M26 7h6M25 12v6M22 15h6M35 17v6M32 20h6M19 22v6M16 25h6M27 21v6M24 24h6"/></g></svg></div>
<div class="th" style="left:59px;top:243px"><svg width="43" height="30"><g fill="#b9dcc8"><rect x="8" y="23" width="3" height="3"/><rect x="12" y="19" width="3" height="7"/><rect x="16" y="12" width="3" height="14"/><rect x="20" y="5" width="3" height="21"/><rect x="24" y="10" width="3" height="16"/><rect x="28" y="17" width="3" height="9"/><rect x="32" y="22" width="3" height="4"/></g><path d="M4 26h36" stroke="#e6e6e6"/></svg></div>
<div class="th" style="left:108px;top:243px"><svg width="43" height="30"><g stroke="#111" stroke-width="1.1"><path d="M8 5v20M6 5h4M6 25h4M18 3v23M16 3h4M16 26h4M27 5v22M25 5h4M25 27h4M36 3v23M34 3h4M34 26h4"/></g><g><rect x="5" y="10" width="6" height="5" fill="#5fb27c"/><rect x="5" y="15" width="6" height="4" fill="#3e8f5a"/><rect x="15" y="7" width="6" height="6" fill="#5fb27c"/><rect x="15" y="13" width="6" height="5" fill="#3e8f5a"/><rect x="24" y="11" width="6" height="5" fill="#5fb27c"/><rect x="24" y="16" width="6" height="5" fill="#3e8f5a"/><rect x="33" y="7" width="6" height="6" fill="#5fb27c"/><rect x="33" y="13" width="6" height="5" fill="#3e8f5a"/></g></svg></div>

<div class="th" style="left:10px;top:281px"><svg width="43" height="30"><g fill="#d4eadd"><rect x="4" y="4" width="7" height="5"/><rect x="4" y="13" width="3" height="5"/><rect x="9" y="13" width="2" height="5"/><rect x="14" y="13" width="3" height="5"/><rect x="20" y="13" width="10" height="5"/><rect x="4" y="22" width="2" height="5"/><rect x="10" y="22" width="3" height="5"/></g><g fill="#fde3c8"><rect x="16" y="4" width="5" height="5"/><rect x="25" y="4" width="2" height="5"/><rect x="31" y="4" width="6" height="5"/><rect x="32" y="13" width="7" height="5"/><rect x="16" y="22" width="3" height="5"/><rect x="22" y="22" width="4" height="5"/><rect x="33" y="22" width="3" height="5"/></g></svg></div>
<div class="th" style="left:59px;top:281px"><svg width="43" height="30"><rect x="5" y="4" width="33" height="5" fill="#f3f3f3"/><rect x="5" y="13" width="33" height="5" fill="#f3f3f3"/><rect x="5" y="22" width="33" height="5" fill="#f3f3f3"/><g fill="#cfe6d8"><rect x="5" y="5" width="23" height="3"/><rect x="5" y="14" width="28" height="3"/><rect x="5" y="23" width="18" height="3"/></g><g stroke="#999"><path d="M24 3v7M32 12v7M34 21v7"/></g></svg></div>
<div class="th" style="left:108px;top:281px"><svg width="43" height="30"><circle cx="12" cy="19" r="7" fill="#9fd8b0"/><circle cx="19" cy="8" r="4" fill="#5fb27c"/><circle cx="26" cy="12" r="4" fill="#ffbe7d"/><circle cx="33" cy="9" r="5" fill="#ffbe7d"/><circle cx="28" cy="5" r="2.5" fill="#9fd8b0"/><circle cx="32" cy="17" r="2.5" fill="#f28e2b"/><circle cx="22" cy="22" r="3" fill="#5fb27c"/></svg></div>

<div class="a" style="left:11px;top:327px;width:150px;font-size:10px;line-height:13px">Para <b>mapas de símbolo</b></div>
<div class="a" style="left:11px;top:340px;font-size:10px;line-height:13px">pruebe</div>
<div class="a" style="left:11px;top:362px;font-size:10px;line-height:13px">1</div>
<div class="a" style="left:21px;top:361px;font-size:10px;line-height:13px;color:#555">&#127760;&#xFE0E;</div>
<div class="pill" style="left:36px;top:361px;width:68px;background:#4a96b3;padding-left:10px;font-size:10.5px;line-height:17px">Dimensión</div>
<div class="a" style="left:11px;top:386px;font-size:10px;line-height:13px">geográfica</div>
<div class="a" style="left:11px;top:401px;font-size:10px;line-height:13px">0 o más</div>
<div class="pill" style="left:48px;top:399px;width:80px;background:#4a96b3;padding-left:10px;font-size:10.5px;line-height:17px">Dimensiones</div>
<div class="a" style="left:11px;top:424px;font-size:10px;line-height:13px">0 a 2</div>
<div class="pill" style="left:36px;top:422px;width:59px;background:#00b180;padding-left:10px;font-size:10.5px;line-height:17px">Medidas</div>
<div class="a" style="left:11px;top:448px;font-size:10px;line-height:13px;color:#999">Puede usar la medida espacial</div>
<div class="a" style="left:11px;top:461px;font-size:10px;line-height:13px;color:#999">en lugar de la dimensión</div>
<div class="a" style="left:11px;top:474px;font-size:10px;line-height:13px;color:#999">geográfica</div>
</div>

<!-- bottom tabs -->
<div class="a" style="left:0;top:807px;width:1568px;height:25px;background:#e6e6e6;border-top:1px solid #cfcfcf"></div>
<svg class="a" style="left:6px;top:814px" width="10" height="12"><path d="M1 2c0-2 7-2 7 0v8c0 2-7 2-7 0zM1 2c0 2 7 2 7 0" stroke="#555" fill="none"/></svg>
<div class="a" style="left:20px;top:814px;font-size:10px;color:#555;line-height:14px">Fuente de datos</div>
<div class="a" style="left:105px;top:808px;width:1px;height:24px;background:#cfcfcf"></div>
<div class="a" style="left:112px;top:814px;font-size:10px;color:#666;line-height:14px">Plazas Hoteleras por Provincias</div>
<div class="a" style="left:262px;top:808px;width:43px;height:24px;background:#fff;border-left:1px solid #cfcfcf;border-right:1px solid #cfcfcf"></div>
<div class="a" style="left:270px;top:814px;font-size:10px;color:#333;line-height:14px;font-weight:bold">Hoja 2</div>
<svg class="a" style="left:310px;top:811px" width="80" height="18"><g stroke="#555" fill="none"><rect x="3" y="3" width="9" height="10"/><path d="M5.5 10V8M7.5 10V6M9.5 10V7M12 11v6M9 14h6" stroke-width="1.2"/><rect x="30" y="3" width="10" height="10"/><path d="M30 8h10M35 3v10M39 11v6M36 14h6" stroke-width="1.1"/><path d="M57 4l3-1 3 1 3-1v10l-3 1-3-1-3 1zM66 11v6M63 14h6" stroke-width="1.1"/></g><path d="M23 0v18M49 0v18M75 0v18" stroke="#cfcfcf"/></svg>

<!-- status bar -->
<div class="a" style="left:0;top:832px;width:1568px;height:15px;background:#f0f0f0"></div>
<div class="a" style="left:3px;top:834px;font-size:9px;color:#333;line-height:12px">1570 marcas</div>
<div class="a" style="left:69px;top:834px;font-size:9px;color:#333;line-height:12px">785 filas por 2 columnas</div>
<div class="a" style="left:183px;top:834px;font-size:9px;color:#333;line-height:12px">SUMA(Ratio_plazas_poblacion): 1.993,95</div>
<div class="a" style="left:1390px;top:832px;width:1px;height:15px;background:#ddd"></div>
<div class="a" style="left:1430px;top:832px;width:1px;height:15px;background:#ddd"></div>
<div class="a" style="left:1443px;top:832px;width:1px;height:15px;background:#ddd"></div>
<svg class="a" style="left:1455px;top:834px" width="110" height="12"><g fill="#bbb"><path d="M7 2v8h1V2zM14 2l-4 4 4 4zM22 2l-4 4 4 4zM30 2l4 4-4 4zM38 2l4 4-4 4zM44 2v8h1V2z"/></g><g fill="#999"><rect x="63" y="2" width="2" height="2"/><rect x="66" y="2" width="2" height="2"/><rect x="69" y="2" width="2" height="2"/><rect x="63" y="5" width="2" height="2"/><rect x="66" y="5" width="2" height="2"/><rect x="69" y="5" width="2" height="2"/><rect x="63" y="8" width="2" height="2"/><rect x="66" y="8" width="2" height="2"/><rect x="69" y="8" width="2" height="2"/><rect x="81" y="2" width="7" height="5"/><rect x="81" y="8" width="7" height="2"/></g><rect x="98" y="1" width="8" height="10" fill="#444"/></svg>

</div>
</body></html>
